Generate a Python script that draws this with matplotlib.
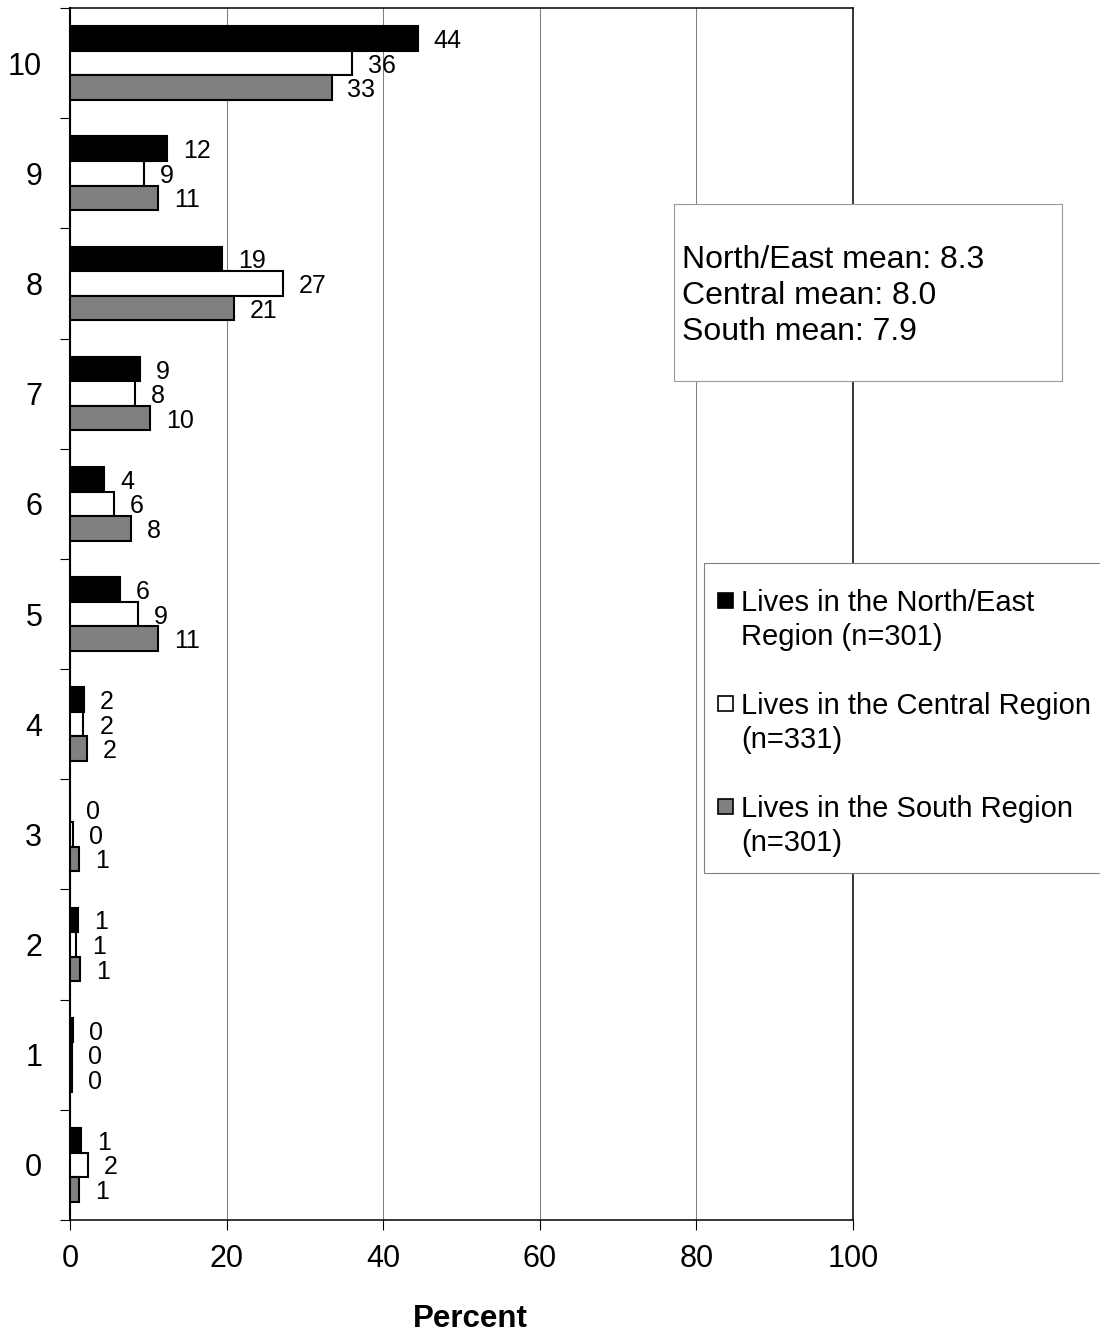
import matplotlib.pyplot as plt
from matplotlib.patches import Rectangle
import numpy as np

plt.rcParams["font.family"] = ["Liberation Sans", "DejaVu Sans"]

# Satisfaction scores (0-10) and percent of respondents per region
scores = [0, 1, 2, 3, 4, 5, 6, 7, 8, 9, 10]
north_east = [1.4, 0.4, 1.0, 0.0, 1.8, 6.4, 4.4, 8.9, 19.4, 12.4, 44.4]
central = [2.3, 0.3, 0.8, 0.4, 1.7, 8.7, 5.6, 8.3, 27.2, 9.4, 36.0]
south = [1.2, 0.2, 1.3, 1.2, 2.2, 11.2, 7.8, 10.2, 20.9, 11.2, 33.4]

series_names = [
    ["Lives in the North/East", "Region (n=301)"],
    ["Lives in the Central Region", "(n=331)"],
    ["Lives in the South Region", "(n=301)"],
]
series_colors = ["black", "white", "#808080"]
mean_lines = ["North/East mean: 8.3", "Central mean: 8.0", "South mean: 7.9"]
x_ticks = [0, 20, 40, 60, 80, 100]

W, H = 1100, 1332


# pixel helpers (figure coords)
def fx(px):
    return px / W


def fy(py):
    return 1 - py / H


fig = plt.figure(figsize=(W / 100, H / 100), dpi=100)
ax = fig.add_axes([fx(70), fy(1220), fx(853) - fx(70), fy(8) - fy(1220)])

y = np.array(scores, dtype=float)
bar_h = 0.223
offsets = [bar_h, 0, -bar_h]
for vals, color, off in zip([north_east, central, south], series_colors, offsets):
    ax.barh(y + off, vals, height=bar_h, color=color, edgecolor="black",
            linewidth=1.5, zorder=3)
    for yy, v in zip(y + off, vals):
        ax.annotate(f"{v:.0f}", xy=(v, yy), xytext=(11.5, 0),
                    textcoords="offset points", ha="left",
                    va="center_baseline", fontsize=18, zorder=4)

ax.set_xlim(0, 100)
ax.set_ylim(-0.5, 10.5)
ax.set_xticks(x_ticks)
ax.set_xticklabels([str(t) for t in x_ticks])
ax.set_yticks(scores)
ax.set_yticklabels([str(s) for s in scores])
ax.set_yticks(np.arange(-0.5, 11, 1), minor=True)
ax.tick_params(axis="y", which="major", length=0, pad=20, labelsize=22)
ax.tick_params(axis="y", which="minor", length=7.2, width=0.8, direction="out")
ax.tick_params(axis="x", length=7.2, width=0.8, direction="out", pad=10,
               labelsize=22)

ax.xaxis.grid(True, color="#808080", linewidth=0.75)
ax.set_axisbelow(True)
for side in ["top", "right", "bottom"]:
    ax.spines[side].set_linewidth(1.1)
ax.spines["left"].set_linewidth(1.5)

ax.set_xlabel("Percent", fontsize=22.5, fontweight="bold", labelpad=21.5)
ax.xaxis.label.set_x((470 - 70) / 783)

# mean box
fig.add_artist(Rectangle((fx(674), fy(381)), fx(1062) - fx(674), fy(204) - fy(381),
                         transform=fig.transFigure, facecolor="white",
                         edgecolor="#9a9a9a", linewidth=0.8, zorder=5))
for i, line in enumerate(mean_lines):
    fig.text(fx(682), fy(257 + 36 * i), line, fontsize=23,
             va="center_baseline", ha="left", zorder=6)

# legend drawn by hand so markers line up with first text line
fig.add_artist(Rectangle((fx(704), fy(873)), fx(1110) - fx(704), fy(563) - fy(873),
                         transform=fig.transFigure, facecolor="white",
                         edgecolor="#808080", linewidth=0.8, zorder=5))
for i, (lines, color) in enumerate(zip(series_names, series_colors)):
    y0 = 600 + 103 * i
    fig.add_artist(Rectangle((fx(718), fy(y0 + 7.5)), fx(15), 15 / H,
                             transform=fig.transFigure, facecolor=color,
                             edgecolor="black", linewidth=1.2, zorder=6))
    for j, line in enumerate(lines):
        fig.text(fx(741), fy(y0 + 34 * j), line, fontsize=21,
                 va="center_baseline", ha="left", zorder=6)

fig.savefig("out.png", dpi=100)
